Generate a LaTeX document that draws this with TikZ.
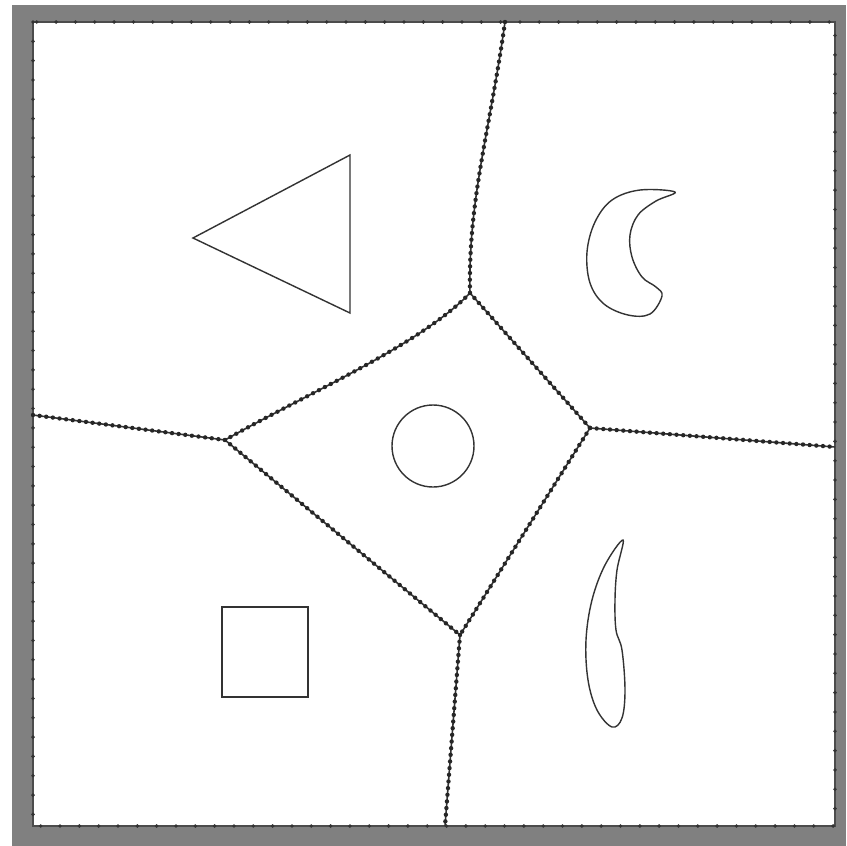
\documentclass[tikz,border=0pt]{standalone}
\usepackage{tikz}

\begin{document}
\begin{tikzpicture}[
  x=0.02cm, y=-0.02cm,
  frame_outer/.style={fill=black!50, draw=none},
  frame_inner/.style={fill=white, draw=black!70, line width=0.6pt,
    postaction={draw=black!80, line width=2.2pt, line cap=round, dash pattern=on 0pt off 11pt}},
  voronoi/.style={draw=black!80, line width=0.9pt,
    postaction={draw=black!85, line width=2.5pt, line cap=round, dash pattern=on 0pt off 3.8pt}},
  shape_line/.style={draw=black!80, line width=0.8pt}
]

% Bounding box and frame
\useasboundingbox (0,0) rectangle (846,846);
\fill[white] (0,0) rectangle (846,846);
\fill[frame_outer] (12,5) rectangle (846,846);
\draw[frame_inner] (33,22) rectangle (835,826);

% Voronoi vertices
\coordinate (vtop) at (470,293);
\coordinate (vleft) at (225,440);
\coordinate (vright) at (590,428);
\coordinate (vbot) at (460,635);

% Border end points
\coordinate (etop) at (505,22);
\coordinate (eleft) at (33,415);
\coordinate (eright) at (835,447);
\coordinate (ebot) at (445,826);

% --- Cell boundaries ---
\draw[voronoi] (etop) .. controls (490,130) and (468,200) .. (vtop);
\draw[voronoi] (vtop) .. controls (420,345) and (310,392) .. (vleft);
\draw[voronoi] (vtop) -- (vright);
\draw[voronoi] (vleft) -- (eleft);
\draw[voronoi] (vright) -- (eright);
\draw[voronoi] (vleft) -- (vbot);
\draw[voronoi] (vright) -- (vbot);
\draw[voronoi] (vbot) -- (ebot);

% --- Shapes ---
% triangle
\draw[shape_line] (193,238) -- (350,155) -- (350,313) -- cycle;
% crescent
\draw[shape_line] plot[smooth cycle, tension=0.6] coordinates {
  (675,192) (640,190) (612,200) (595,222) (587,252) (590,283) (604,304)
  (628,315) (650,314) (662,296) (656,287) (642,277) (632,257) (630,235)
  (638,215) (656,201)};
% circle
\draw[shape_line] (433,446) circle[radius=41];
% square
\draw[shape_line] (222,607) rectangle (308,697);
% sliver
\draw[shape_line] plot[smooth cycle, tension=0.6] coordinates {
  (623,540) (605,565) (592,600) (586,640) (588,680) (597,710) (612,727)
  (622,718) (625,690) (622,650) (616,630) (615,600) (617,570)};

\end{tikzpicture}
\end{document}
